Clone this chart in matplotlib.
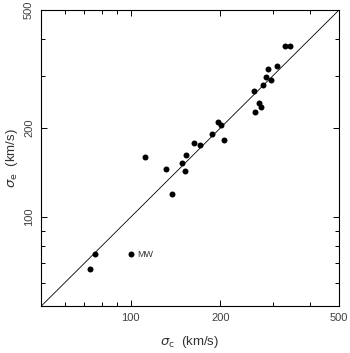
import matplotlib
matplotlib.use("Agg")
import matplotlib.pyplot as plt
from matplotlib.ticker import FixedLocator, FixedFormatter, NullFormatter

# central velocity dispersion vs. estimated dispersion (km/s)
sigma_c = [329, 344, 311, 289, 285, 296, 278, 260, 269, 274, 261,
           196, 201, 188, 206, 163, 171, 153, 149, 152, 131, 138, 112,
           76, 73]
sigma_e = [378, 378, 325, 317, 298, 291, 280, 267, 244, 235, 227,
           209, 205, 191, 183, 178, 175, 162, 152, 143, 145, 120, 160,
           75, 67]

# Milky Way, labelled separately
mw_c = [100]
mw_e = [75]

major_ticks = [100, 200, 500]
minor_ticks = [60, 70, 80, 90, 300, 400]
lims = [50, 500]

plt.rcParams['font.family'] = ['Liberation Sans', 'DejaVu Sans']

fig = plt.figure(figsize=(3.5, 3.53), dpi=100)
ax = fig.add_axes([0.117, 0.132, 0.851, 0.839])

ax.set_xscale('log')
ax.set_yscale('log')
ax.set_xlim(lims)
ax.set_ylim(lims)

ax.plot(lims, lims, color='black', linewidth=0.6)
ax.plot(sigma_c, sigma_e, 'o', color='black', markersize=4.3, markeredgewidth=0)
ax.plot(mw_c, mw_e, 'o', color='black', markersize=4.3, markeredgewidth=0)
ax.annotate('MW', (mw_c[0], mw_e[0]), xytext=(5, 0), textcoords='offset points',
            va='center', ha='left', fontsize=6.5, color='#333333')

for axis in (ax.xaxis, ax.yaxis):
    axis.set_major_locator(FixedLocator(major_ticks))
    axis.set_minor_locator(FixedLocator(minor_ticks))
    axis.set_major_formatter(FixedFormatter([str(t) for t in major_ticks]))
    axis.set_minor_formatter(NullFormatter())

ax.tick_params(which='both', direction='in', top=True, right=True,
               labelsize=8, labelcolor='#404040', width=0.7)
ax.tick_params(which='major', length=4.5, pad=5)
ax.tick_params(which='minor', length=3)
for lbl in ax.get_yticklabels():
    lbl.set_rotation(90)
    lbl.set_va('center')

for s in ax.spines.values():
    s.set_linewidth(0.8)

ax.set_xlabel(r'$\sigma_{\rm c}$  (km/s)', fontsize=9.5, color='#333333', labelpad=8)
ax.set_ylabel(r'$\sigma_{\rm e}$  (km/s)', fontsize=9.5, color='#333333', labelpad=3)

fig.savefig('out.png', dpi=100)
